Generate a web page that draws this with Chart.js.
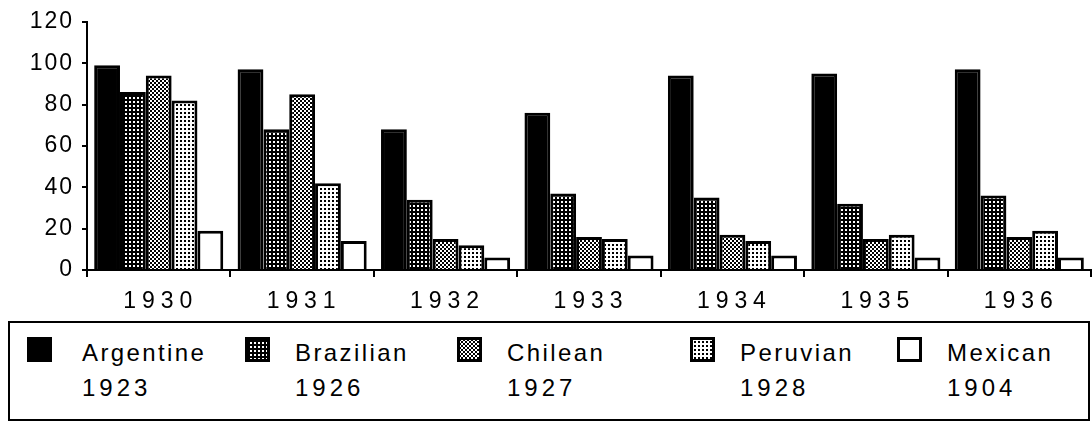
<!DOCTYPE html>
<html>
<head>
<meta charset="utf-8">
<script src="https://cdn.jsdelivr.net/npm/chart.js@4"></script>
<style>
  body { margin: 0; background: #fff; }
  #wrap { position: relative; width: 1092px; height: 425px; }
  #chart { position: absolute; left: 0; top: 0; }
  #legend {
    position: absolute; left: 8px; top: 321px; width: 1082px; height: 100px;
    border: 2px solid #000; box-sizing: border-box;
    font-family: "Liberation Sans", Arial, sans-serif; font-size: 24px; line-height: 24px; color: #000;
  }
  .item { position: absolute; top: 0; }
  .item canvas { position: absolute; left: 0; top: 14px; }
  .item .name { position: absolute; top: 18px; letter-spacing: 2.4px; white-space: nowrap; }
  .item .year { position: absolute; top: 53px; letter-spacing: 4px; white-space: nowrap; }
</style>
</head>
<body>
<div id="wrap">
  <canvas id="chart" width="1092" height="318"></canvas>
  <div id="legend"></div>
</div>
<script>
// data
const categories = ['1930', '1931', '1932', '1933', '1934', '1935', '1936'];
const seriesNames = ['Argentine', 'Brazilian', 'Chilean', 'Peruvian', 'Mexican'];
const seriesYears = ['1923', '1926', '1927', '1928', '1904'];
const argentine = [99, 97, 68, 76, 94, 95, 97];
const brazilian = [86, 68, 34, 37, 35, 32, 36];
const chilean = [94, 85, 15, 16, 17, 15, 16];
const peruvian = [82, 42, 12, 15, 14, 17, 19];
const mexican = [19, 14, 6, 7, 7, 6, 6];
const yTicks = [0, 20, 40, 60, 80, 100, 120];

const FONT = '"Liberation Sans", Arial, sans-serif';

// small repeating tiles to mimic the old halftone fills
const makePattern = (draw) => {
  const tile = document.createElement('canvas');
  tile.width = 4;
  tile.height = 4;
  const t = tile.getContext('2d');
  draw(t);
  return t.createPattern(tile, 'repeat');
};

const fills = [
  '#000',
  makePattern((t) => { t.fillStyle = '#000'; t.fillRect(0, 0, 4, 4); t.fillStyle = '#fff'; t.fillRect(1, 1, 2, 2); }),
  makePattern((t) => { t.fillStyle = '#fff'; t.fillRect(0, 0, 4, 4); t.fillStyle = '#000'; t.fillRect(0, 0, 2, 2); t.fillRect(2, 2, 2, 2); }),
  makePattern((t) => { t.fillStyle = '#fff'; t.fillRect(0, 0, 4, 4); t.fillStyle = '#000'; t.fillRect(0, 0, 2, 2); }),
  '#fff',
];
const seriesValues = [argentine, brazilian, chilean, peruvian, mexican];

// legend layout (page x of each swatch)
const legendLeft = [17, 235, 447, 680, 887];

const legend = document.getElementById('legend');
seriesNames.forEach((name, i) => {
  const item = document.createElement('div');
  item.className = 'item';
  item.style.left = legendLeft[i] + 'px';
  const sw = document.createElement('canvas');
  sw.width = 25;
  sw.height = 25;
  const c = sw.getContext('2d');
  c.fillStyle = '#000';
  c.fillRect(0, 0, 25, 25);
  c.fillStyle = fills[i];
  if (i > 0) c.fillRect(3, 3, 19, 19);
  item.appendChild(sw);
  const n = document.createElement('div');
  n.className = 'name';
  n.style.left = (i === 0 ? 55 : 50) + 'px';
  n.textContent = name;
  item.appendChild(n);
  const y = document.createElement('div');
  y.className = 'year';
  y.style.left = (i === 0 ? 55 : 50) + 'px';
  y.textContent = seriesYears[i];
  item.appendChild(y);
  legend.appendChild(item);
});

const spacing = {
  id: 'spacing',
  beforeDraw(chart) {
    chart.ctx.letterSpacing = '2px';
  },
};

new Chart(document.getElementById('chart'), {
  type: 'bar',
  data: {
    labels: categories,
    datasets: seriesNames.map((name, i) => ({
      label: name,
      data: seriesValues[i],
      backgroundColor: fills[i],
      borderColor: '#000',
      borderWidth: 3,
      categoryPercentage: 0.9,
      barPercentage: 1.0,
    })),
  },
  options: {
    responsive: false,
    devicePixelRatio: 1,
    animation: false,
    layout: { padding: { top: 21, right: 1, left: 0, bottom: 0 } },
    plugins: { legend: { display: false }, tooltip: { enabled: false } },
    scales: {
      x: {
        grid: { drawOnChartArea: false, drawTicks: true, tickLength: 7, color: '#000', lineWidth: 2, offset: true },
        border: { display: true, color: '#000', width: 2 },
        ticks: {
          color: '#000',
          font: { family: FONT, size: 23 },
          padding: 11,
          maxRotation: 0,
          callback: (v, i) => categories[i].split('').join('\u200a'),
        },
        afterFit: (s) => { s.height = 48; },
      },
      y: {
        min: 0,
        max: 120,
        afterBuildTicks: (s) => { s.ticks = yTicks.map((v) => ({ value: v })); },
        grid: { drawOnChartArea: false, tickLength: 5, color: '#000', lineWidth: 2 },
        border: { display: true, color: '#000', width: 2 },
        ticks: { color: '#000', font: { family: FONT, size: 23 }, padding: 8 },
        afterFit: (s) => { s.width = 87; },
      },
    },
  },
  plugins: [spacing],
});
</script>
</body>
</html>
